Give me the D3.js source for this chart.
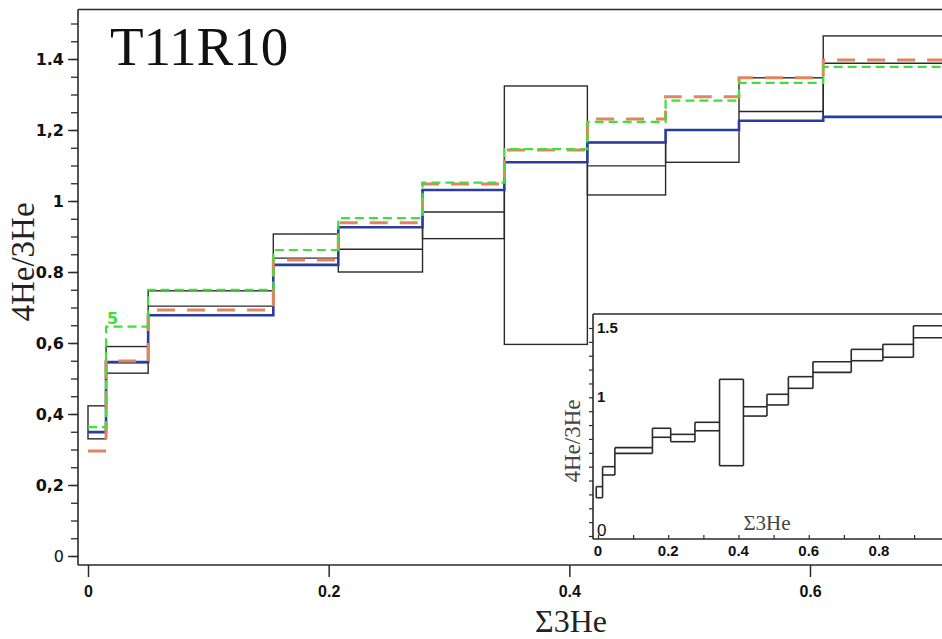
<!DOCTYPE html>
<html><head><meta charset="utf-8">
<script src="https://cdn.jsdelivr.net/npm/d3@7"></script>
<style>body{margin:0;background:#fff} svg{display:block}</style>
</head><body><svg id="c" width="942" height="639"></svg>
<script>
// ---------- main chart data ----------
const binEdges = [0, 0.015, 0.05, 0.154, 0.208, 0.278, 0.346, 0.415, 0.48, 0.541, 0.611, 0.75];
const boxHigh  = [0.423, 0.59, 0.747, 0.907, 0.926, 1.031, 1.324, 1.165, 1.2, 1.347, 1.465];
const boxLow   = [0.33, 0.515, 0.678, 0.82, 0.80, 0.894, 0.596, 1.017, 1.109, 1.226, 1.237];
const boxMid   = [0.349, 0.545, 0.704, 0.839, 0.864, 0.969, 1.109, 1.099, 1.2, 1.252, 1.388];
const blueVals   = [0.349, 0.546, 0.678, 0.82, 0.926, 1.031, 1.109, 1.165, 1.2, 1.226, 1.237];
const orangeVals = [0.296, 0.549, 0.693, 0.834, 0.939, 1.048, 1.144, 1.231, 1.294, 1.347, 1.397];
const greenVals  = [0.363, 0.646, 0.75, 0.862, 0.952, 1.052, 1.146, 1.223, 1.283, 1.333, 1.378];
const yMajorTicks = [0, 0.2, 0.4, 0.6, 0.8, 1, 1.2, 1.4];
const yTickLabels = ["0", "0,2", "0,4", "0,6", "0.8", "1", "1,2", "1.4"];
const xMajorTicks = [0, 0.2, 0.4, 0.6];
const xTickLabels = ["0", "0.2", "0.4", "0.6"];
const title = "T11R10";
const greenNote = "5";

// ---------- inset data ----------
const insetEdges = [-0.005, 0.013, 0.048, 0.155, 0.207, 0.276, 0.346, 0.414, 0.481, 0.542, 0.612, 0.721, 0.811, 0.898, 1.0];
const insetUpper = [0.356, 0.50, 0.637, 0.777, 0.733, 0.820, 1.130, 0.932, 1.022, 1.149, 1.257, 1.346, 1.382, 1.516];
const insetLower = [0.276, 0.44, 0.596, 0.712, 0.680, 0.759, 0.507, 0.865, 0.945, 1.065, 1.180, 1.264, 1.289, 1.430];
const insetYLabels = [0, 1, 1.5];
const insetYLabelText = ["0", "1", "1.5"];
const insetXTicks = [0, 0.2, 0.4, 0.6, 0.8];
const insetXLabelText = ["0", "0.2", "0.4", "0.6", "0.8"];

const svg = d3.select("#c");
const W = 942, H = 639;
svg.append("rect").attr("width", W).attr("height", H).attr("fill", "#fff");

const x = d3.scaleLinear().domain([0, 0.6]).range([88, 810]);
const y = d3.scaleLinear().domain([0, 1.4]).range([556, 59]);
const frameL = 78, frameT = 9.5, frameB = 565;
const ink = "#2a2a2a";

// frame
svg.append("line").attr("x1", frameL).attr("x2", W + 5).attr("y1", frameT).attr("y2", frameT)
  .attr("stroke", ink).attr("stroke-width", 1.6);
svg.append("line").attr("x1", frameL).attr("x2", frameL).attr("y1", frameT).attr("y2", frameB)
  .attr("stroke", ink).attr("stroke-width", 1.6);
svg.append("line").attr("x1", frameL).attr("x2", W + 5).attr("y1", frameB).attr("y2", frameB)
  .attr("stroke", ink).attr("stroke-width", 1.6);

// y axis minor ticks
const yMinor = svg.append("g").attr("transform", `translate(${frameL},0)`)
  .call(d3.axisLeft(y).tickValues(d3.range(0, 1.5001, 0.05)).tickSize(7).tickFormat(""));
yMinor.select(".domain").remove();
yMinor.selectAll("line").attr("stroke", ink).attr("stroke-width", 1.3);
// y axis major
const yAx = svg.append("g").attr("transform", `translate(${frameL},0)`)
  .call(d3.axisLeft(y).tickValues(yMajorTicks).tickSize(10).tickPadding(4)
    .tickFormat((d, i) => yTickLabels[i]));
yAx.select(".domain").remove();
yAx.selectAll("line").attr("stroke", ink).attr("stroke-width", 1.4);
yAx.selectAll("text").attr("font-family", "DejaVu Sans, sans-serif").attr("font-size", 16)
  .attr("font-weight", (d) => d === 0 ? "normal" : "bold").attr("fill", "#111");

// x axis
const xAx = svg.append("g").attr("transform", `translate(0,${frameB})`)
  .call(d3.axisBottom(x).tickValues(xMajorTicks).tickSize(12).tickPadding(9)
    .tickFormat((d, i) => xTickLabels[i]));
xAx.select(".domain").remove();
xAx.selectAll("line").attr("stroke", ink).attr("stroke-width", 1.5);
xAx.selectAll("text").attr("font-family", "Liberation Sans, Arial, sans-serif").attr("font-size", 16)
  .attr("font-weight", "bold").attr("fill", "#111");

// axis titles
svg.append("text").attr("x", 571).attr("y", 632).attr("text-anchor", "middle")
  .attr("font-family", "Liberation Serif, serif").attr("font-size", 32).attr("fill", "#222").text("Σ3He");
svg.append("text").attr("transform", "translate(34,262) rotate(-90)").attr("text-anchor", "middle")
  .attr("font-family", "Liberation Serif, serif").attr("font-size", 33).attr("fill", "#222").text("4He/3He");

// title
svg.append("text").attr("x", 110).attr("y", 65)
  .attr("font-family", "Liberation Serif, serif").attr("font-size", 55).attr("fill", "#111").text(title);

// ---------- main plot content ----------
const plot = svg.append("g");
const bins = d3.range(boxHigh.length);
plot.selectAll("rect.box").data(bins).join("rect").attr("class", "box")
  .attr("x", i => x(binEdges[i])).attr("width", i => x(binEdges[i + 1]) - x(binEdges[i]))
  .attr("y", i => y(boxHigh[i])).attr("height", i => y(boxLow[i]) - y(boxHigh[i]))
  .attr("fill", "none").attr("stroke", ink).attr("stroke-width", 1.4);
plot.selectAll("line.mid").data(bins).join("line").attr("class", "mid")
  .attr("x1", i => x(binEdges[i])).attr("x2", i => x(binEdges[i + 1]))
  .attr("y1", i => y(boxMid[i])).attr("y2", i => y(boxMid[i]))
  .attr("stroke", ink).attr("stroke-width", 1.4);

function stepPts(edges, vals) {
  const pts = vals.map((v, i) => [edges[i], v]);
  pts.push([edges[vals.length], vals[vals.length - 1]]);
  return pts;
}
const stepLine = d3.line().x(d => x(d[0])).y(d => y(d[1])).curve(d3.curveStepAfter);

plot.append("path").attr("d", stepLine(stepPts(binEdges, blueVals))).attr("fill", "none")
  .attr("stroke", "#2a3c9e").attr("stroke-width", 2.6);
plot.append("path").attr("d", stepLine(stepPts(binEdges, orangeVals))).attr("fill", "none")
  .attr("stroke", "#e0865e").attr("stroke-width", 3).attr("stroke-dasharray", "18,12");
plot.append("path").attr("d", stepLine(stepPts(binEdges, greenVals))).attr("fill", "none")
  .attr("stroke", "#3fe03a").attr("stroke-width", 2.2).attr("stroke-dasharray", "9,5");

svg.append("text").attr("x", x(binEdges[1]) + 1).attr("y", 324)
  .attr("font-family", "DejaVu Sans, sans-serif").attr("font-weight", "bold").attr("font-size", 16)
  .attr("fill", "#3fe03a").text(greenNote);

// ---------- inset ----------
const xi = d3.scaleLinear().domain([0, 0.8]).range([598, 879]);
const yi = d3.scaleLinear().domain([0, 1.5]).range([536, 328]);
const iL = 593, iT = 314, iB = 539;
svg.append("rect").attr("x", iL).attr("y", iT).attr("width", W - iL + 10).attr("height", iB - iT)
  .attr("fill", "#fff").attr("stroke", "none");
svg.append("line").attr("x1", iL).attr("x2", W + 5).attr("y1", iT).attr("y2", iT).attr("stroke", ink).attr("stroke-width", 1.6);
svg.append("line").attr("x1", iL).attr("x2", iL).attr("y1", iT).attr("y2", iB).attr("stroke", ink).attr("stroke-width", 1.6);
svg.append("line").attr("x1", iL).attr("x2", W + 5).attr("y1", iB).attr("y2", iB).attr("stroke", ink).attr("stroke-width", 1.6);

const iyAx = svg.append("g").attr("transform", `translate(${iL},0)`)
  .call(d3.axisLeft(yi).tickValues(d3.range(0, 1.5001, 0.1)).tickSize(4).tickFormat(""));
iyAx.select(".domain").remove();
iyAx.selectAll("line").attr("stroke", ink).attr("stroke-width", 1.2);
svg.selectAll("text.iyl").data(insetYLabels).join("text").attr("class", "iyl")
  .attr("x", iL + 4).attr("y", d => Math.min(yi(d) + 5, iB - 3))
  .attr("font-family", "Liberation Sans, Arial, sans-serif").attr("font-size", d => d === 0 ? 17 : 15)
  .attr("font-weight", d => d === 0 ? "normal" : "bold").attr("fill", "#111")
  .text((d, i) => insetYLabelText[i]);

const ixAx = svg.append("g").attr("transform", `translate(0,${iB})`)
  .call(d3.axisTop(xi).tickValues(d3.range(0, 1.0001, 0.1)).tickSize(4).tickFormat(""));
ixAx.select(".domain").remove();
ixAx.selectAll("line").attr("stroke", ink).attr("stroke-width", 1.2);
svg.selectAll("text.ixl").data(insetXTicks).join("text").attr("class", "ixl")
  .attr("x", d => xi(d)).attr("y", 556).attr("text-anchor", "middle")
  .attr("font-family", "Liberation Sans, Arial, sans-serif").attr("font-size", 15)
  .attr("font-weight", "bold").attr("fill", "#111")
  .text((d, i) => insetXLabelText[i]);

// inset envelope: upper and lower horizontal segments, vertical edges spanning both neighbours
const ig = svg.append("g").attr("fill", "none").attr("stroke", ink).attr("stroke-width", 1.6);
const ibins = d3.range(insetUpper.length);
ig.selectAll("line.iu").data(ibins).join("line").attr("class", "iu")
  .attr("x1", i => xi(insetEdges[i])).attr("x2", i => xi(insetEdges[i + 1]))
  .attr("y1", i => yi(insetUpper[i])).attr("y2", i => yi(insetUpper[i]));
ig.selectAll("line.il").data(ibins).join("line").attr("class", "il")
  .attr("x1", i => xi(insetEdges[i])).attr("x2", i => xi(insetEdges[i + 1]))
  .attr("y1", i => yi(insetLower[i])).attr("y2", i => yi(insetLower[i]));
ig.selectAll("line.iv").data(d3.range(insetEdges.length)).join("line").attr("class", "iv")
  .attr("x1", k => xi(insetEdges[k])).attr("x2", k => xi(insetEdges[k]))
  .attr("y1", k => {
    const ups = [insetUpper[k - 1], insetUpper[k]].filter(v => v !== undefined);
    return yi(d3.max(ups));
  })
  .attr("y2", k => {
    const lows = [insetLower[k - 1], insetLower[k]].filter(v => v !== undefined);
    return yi(d3.min(lows));
  });

svg.append("text").attr("x", 767).attr("y", 530).attr("text-anchor", "middle")
  .attr("font-family", "Liberation Serif, serif").attr("font-size", 21).attr("fill", "#444").text("Σ3He");
svg.append("text").attr("transform", "translate(580,441) rotate(-90)").attr("text-anchor", "middle")
  .attr("font-family", "Liberation Serif, serif").attr("font-size", 23).attr("fill", "#444").text("4He/3He");
</script></body></html>
